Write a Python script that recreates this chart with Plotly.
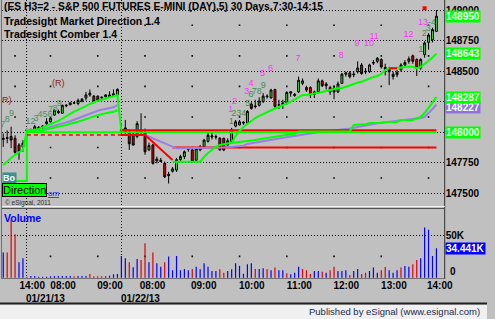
import plotly.graph_objects as go

W, H = 495, 319

# ---------------- data ----------------
bars = list(range(111))

opens = [147940,147955,147965,147950,147895,147880,148010,148020,148005,148040,
         148035,148070,148085,148140,148170,148155,148215,148225,148240,148235,
         148255,148280,148305,148295,148295,148280,148290,148290,148295,148305,
         148010,148000,148000,147985,147965,148015,148000,147855,147895,147765,
         147770,147745,147655,147680,147690,147775,147800,147860,147855,147770,
         147855,147880,147925,147960,147965,147950,147950,147895,147925,148050,
         148060,148075,148075,148230,148215,148220,148250,148290,148280,148350,
         148220,148225,148240,148320,148300,148330,148400,148365,148365,148310,
         148330,148420,148395,148365,148360,148330,148400,148475,148485,148470,
         148495,148550,148500,148495,148565,148580,148595,148530,148515,148475,
         148470,148510,148550,148580,148625,148595,148525,148635,148735,148755,
         148825]
highs = [147990,148015,148045,147975,147910,147935,148030,148030,148060,148050,
         148060,148115,148120,148185,148185,148225,148230,148245,148250,148275,
         148280,148330,148350,148305,148300,148295,148310,148335,148350,148360,
         148070,148100,148020,148000,148090,148155,148030,147915,147905,147800,
         147790,147760,147675,147715,147790,147815,147850,147880,147870,147875,
         147895,147945,147995,147995,147980,147960,147955,147950,148035,148100,
         148100,148090,148180,148245,148265,148285,148320,148310,148355,148355,
         148265,148265,148335,148335,148320,148455,148440,148380,148375,148340,
         148440,148430,148410,148380,148380,148415,148485,148495,148500,148500,
         148580,148565,148525,148560,148590,148615,148605,148560,148535,148495,
         148510,148565,148590,148620,148635,148605,148605,148745,148810,148855,
         149000]
lows = [147880,147910,147870,147825,147775,147840,148000,148010,148000,148020,
        148030,148060,148080,148135,148150,148150,148205,148220,148230,148220,
        148245,148260,148290,148240,148255,148275,148285,148280,148290,148290,
        147975,147975,147855,147890,147950,147975,147815,147845,147735,147745,
        147755,147625,147580,147670,147675,147765,147780,147840,147750,147755,
        147845,147870,147915,147940,147940,147850,147845,147890,147910,148040,
        148055,148060,148060,148185,148195,148210,148240,148275,148275,148195,
        148190,148190,148225,148290,148290,148320,148385,148330,148280,148280,
        148320,148370,148350,148305,148270,148320,148395,148455,148440,148450,
        148480,148470,148475,148485,148550,148565,148520,148465,148385,148430,
        148450,148495,148535,148560,148560,148460,148510,148610,148675,148735,
        148820]
closes = [147950,147950,147935,147835,147840,147910,148020,148020,148045,148030,
          148050,148085,148115,148180,148160,148220,148220,148240,148240,148260,
          148270,148305,148320,148250,148260,148285,148305,148305,148315,148350,
          148025,148035,147905,147895,148070,148000,147840,147890,147745,147780,
          147760,147635,147645,147700,147775,147800,147840,147865,147760,147865,
          147880,147935,147975,147970,147960,147855,147855,147930,148020,148085,
          148085,148080,148170,148195,148210,148255,148295,148295,148345,148210,
          148225,148240,148325,148330,148310,148425,148420,148345,148305,148330,
          148420,148380,148380,148330,148330,148395,148475,148485,148455,148475,
          148525,148480,148495,148550,148570,148605,148535,148515,148495,148455,
          148490,148550,148570,148600,148580,148525,148595,148730,148795,148840,
          148950]

volume = [29400,29400,67800,51000,18000,22700,1200,2000,2000,1200,
          1200,1200,1600,2000,2000,2000,2000,2000,1600,2000,
          2000,2000,4300,1600,1600,1600,1600,2400,3900,4300,
          25500,22700,18000,12200,22000,20800,40400,18000,29400,16900,
          12900,18000,24700,8600,25500,8600,10200,8600,10200,12900,
          9800,16900,12900,7800,7800,9800,5900,7800,9800,16900,
          14100,4700,15700,16900,10200,10200,11000,9800,8600,11800,
          8600,8600,5100,3900,5900,12900,10200,8600,4300,7800,
          7800,7100,5900,8600,12900,7800,7800,8600,3100,7800,
          10200,4300,5900,7800,11800,5900,8600,12500,8600,5900,
          8600,11800,13700,12900,15700,20800,22700,58800,56100,25500,
          34441]
# 1 = up volume (blue), 0 = down volume (red)
vol_up = [1,0,0,0,1,1,0,1,1,1, 1,1,1,1,1,1,1,1,0,1, 1,1,0,0,0,0,1,1,1,1,
          1,1,0,1,1,0,0,1,0,1, 1,0,1,1,1,1,1,1,0,1, 1,1,1,1,1,0,0,1,1,1,
          1,1,1,1,0,1,1,0,1,0, 1,1,0,1,1,1,0,0,0,1, 1,0,1,0,0,1,1,1,0,1,
          1,0,0,1,1,1,0,0,1,1, 1,0,1,1,0,0,1,1,1,1, 1]

N = None
# pivot level (green): prior level then 148000
level_green = [147600]*6 + [148000]*105
# trailing line day 1 (green)
trail_d1 = [147732,147764,147789,147813,147838,147854,148018,148018,148018,148026,
            148038,148050,148067,148080,148092,148110,148127,148150,148169,148182,
            148196,148214,148231,148247,148258,148266,148274,148282,148292,148304,
            148010] + [N]*80
slow_d1 = [N]*6 + [148005,148005,148007,148010,148016,148022,148030,148037,148045,148052,
                   148059,148070,148078,148085,148094,148105,148117,148129,148141,148148,
                   148155,148162,148168,148182] + [N]*81
purple = ([N]*10 + [148020,148033,148045,148053,148062,148070,148078,148090,148102,148115,
                    148127,148140,148152,148164,148176,148183,148190,148197,148204,148222]
          + [N]*6 + [147977,147963,147948,147936,147924,147912,147895,147879,
                     147868,147868,147868,147868,147868,147868,147868,147868,
                     147869,147870,147871,147872,147874,147876,147878,147880,147882,147890,
                     147903,147909,147915,147922,147928,147934,147940,147945,147950,147955,
                     147960,147965,147969,147975,147980,147986,147991,147995,147999,148003,
                     148006,148010,148013,148017,148020,148024,148030,148036,148041,148047,
                     148053,148060,148066,148073,148077,148081,148085,148089,148092,148095,
                     148099,148102,148105,148108,148116,148124,148155,148190,148227])
trail_red_d2 = [N]*30 + [147977]*7 + [147948,147920,147887,147858,147830,147801,147773] + [N]*67
slow_d2 = ([N]*43 + [147759]*8 +
           [147797,147830,147854,147883,147895,147903,147907,147912,147916,147920,
            147922,147924,147930,147936,147942,147948,147955,147961,147965,147969,
            147973,147977,147981,147985] + [148006]*14 +
           [148059,148063,148063,148063,148075,148075,148075,148075,148084,148084,
            148084,148084,148100,148100,148100,148100,148112,148124,148157,148198,
            148239,148287])
fast_d2 = ([N]*58 + [147912,147969,148010,148043,148067,148092,148116,148133,148149,148165,
                     148182,148194,148206,148218,148235,148251,148268,148284,148304,148304,
                     148309,148313,148321,148329,148337,148345,148354,148359,148362,148370,
                     148382,148394,148407,148413,148427,148439,148452,148460,148476,148509,
                     148523,148523,148523,148529,148536,148536,148536,148523,148534,148558,
                     148583,148611,148643])
fast_red_d2 = [N]*98 + [148523,148523,148523] + [N]*10
prev_close_level = 147977          # dashed red on 01/21
red_level_hi = 148015
red_level_lo = 147875

# signal counts
cnt_g1_text = ['7','8','9','12','3','456','7','8','9']
cnt_g1_bar = [-0.15,1.0,2.1,6.9,8.3,10.6,12.0,13.2,14.2]
cnt_g1_px = [148059,148100,148155,148085,148112,148140,148185,148190,148231]
cnt_m_text = ['1','2','3','4','5','6','7','8','9','10','11','12','13']
cnt_m_bar = [57.75,58.75,61.85,62.9,65.85,67.9,74.85,85.85,89.85,92.9,94.2,102.9,106.6]
cnt_m_px = [148182,148250,148331,148400,148482,148523,148605,148626,148727,148727,148782,148801,148896]
cnt_g2_text = ['1','234','5','6','78','9','1','2','3','-4']
cnt_g2_bar = [57.9,59.8,62.1,62.9,64.4,66.0,106.0,106.9,107.9,108.9]
cnt_g2_px = [148086,148155,148231,148304,148331,148378,148673,148809,148850,148896]
signal_bar = [107]
signal_px = [149014]

price_ticks = [147500,147750,148000,148250,148500,148750,149000]
price_ticktext = ['147500','147750','','','148500','148750','149000']
minor_levels = [147625,147875,148125,148375,148625,148875]
hour_bars = [3,12,24,36,48,60,72,84,96,108]
day_breaks = [6,30]
time_ticks = [7.35,15.2,27.1,37.9,50.9,63.1,75.2,87.1,99.2,110.85]
time_text = ['14:00','08:00','09:00','08:00','09:00','10:00','11:00','12:00','13:00','14:00']
date_ticks = [10.85,34.9]
date_text = ['01/21/13','01/22/13']

last_values = [(148950,'#00ff00','148950',0),(148643,'#00ff00','148643',0),
               (148227,'#9370db','148227',-3),(148287,'#00ff00','148287',0),
               (148000,'#00ff00','148000',0)]

# ---------------- figure ----------------
GREEN = '#00ff00'
RED = '#ff0000'
PURPLE = '#9b7fe6'
FONT = 'Liberation Sans'

fig = go.Figure()

# grid intersection dots
dx, dy = [], []
for lv in minor_levels:
    for b in hour_bars:
        dx.append(b); dy.append(lv)
fig.add_trace(go.Scatter(x=dx, y=dy, mode='markers', hoverinfo='skip',
                         marker=dict(symbol='square', size=1.6, color='black', line_width=0)))
vdx = [b for b in hour_bars if 5 < b < 100]
fig.add_trace(go.Scatter(x=vdx, y=[25000]*len(vdx), mode='markers', xaxis='x2', yaxis='y2',
                         hoverinfo='skip',
                         marker=dict(symbol='square', size=1.6, color='black', line_width=0)))

# volume as 1px stems
for flag, col in ((1, '#0000ff'), (0, '#e00000')):
    vx, vy = [], []
    for b, v, u in zip(bars, volume, vol_up):
        if u == flag:
            vx += [b, b, None]
            vy += [0, v, None]
    fig.add_trace(go.Scatter(x=vx, y=vy, mode='lines', xaxis='x2', yaxis='y2',
                             hoverinfo='skip', line=dict(color=col, width=1.2)))

# candles
fig.add_trace(go.Candlestick(x=bars, open=opens, high=highs, low=lows, close=closes,
                             increasing=dict(line=dict(color='black', width=1), fillcolor='#3cdc3c'),
                             decreasing=dict(line=dict(color='black', width=1), fillcolor='#e00000'),
                             whiskerwidth=0))

def line(y, color, width=2, dash='solid', shape='linear'):
    fig.add_trace(go.Scatter(x=bars, y=y, mode='lines', connectgaps=False,
                             line=dict(color=color, width=width, dash=dash, shape=shape),
                             hoverinfo='skip'))

line([red_level_lo if 43 <= i else N for i in bars], RED)
line(purple, PURPLE)
line(slow_d1, GREEN)
line(level_green, GREEN, shape='hv')
line([red_level_hi if 30 <= i else N for i in bars], RED)
line([prev_close_level if 6 <= i <= 30 else N for i in bars], RED, 1.5, '4px,3px')
line(trail_d1, GREEN)
line(trail_red_d2, RED)
line(slow_d2, GREEN)
line(fast_d2, GREEN)
line(fast_red_d2, RED)

fig.add_trace(go.Scatter(x=signal_bar, y=signal_px, mode='markers',
                         marker=dict(color=RED, size=4, symbol='square')))

def counts(t, xb, yp, color):
    fig.add_trace(go.Scatter(x=xb, y=yp, text=t, mode='text', hoverinfo='skip',
                             textfont=dict(family=FONT, size=9, color=color)))

counts(cnt_g1_text, cnt_g1_bar, cnt_g1_px, '#4f8f5f')
counts(cnt_m_text, cnt_m_bar, cnt_m_px, '#ff33ff')
counts(cnt_g2_text, cnt_g2_bar, cnt_g2_px, '#3f8f4f')

def px(x):
    return x / W

def py(y):
    return 1 - y / H

XD = [px(2), px(452)]
XR = [-0.325, 112.1]
grid = dict(showgrid=True, gridcolor='black', gridwidth=1, griddash='1px,2px')

fig.update_layout(
    width=W, height=H, margin=dict(l=0, r=0, t=0, b=0), autosize=False,
    paper_bgcolor='#c0c0c0', plot_bgcolor='#c0c0c0', showlegend=False,
    xaxis=dict(domain=XD, range=XR, anchor='y', showticklabels=False, zeroline=False,
               rangeslider=dict(visible=False), tickvals=day_breaks, ticks='', **grid),
    xaxis2=dict(domain=XD, range=XR, anchor='y2', zeroline=False, showgrid=False,
                tickvals=time_ticks, ticktext=time_text, ticks='',
                tickfont=dict(family=FONT, size=10, color='black', weight='bold'),
                minor=dict(tickvals=day_breaks, showgrid=True, gridcolor='black',
                           griddash='1px,2px', gridwidth=1)),
    yaxis=dict(domain=[py(206), 1], range=[147396, 149082], side='right', zeroline=False,
               tickvals=price_ticks, ticktext=price_ticktext, ticks='',
               tickfont=dict(family=FONT, size=10, color='black', weight='bold'), **grid),
    yaxis2=dict(domain=[py(278), py(209)], range=[-351, 80450], side='right', zeroline=False,
                tickvals=[50000], ticktext=['50K'], ticks='',
                tickfont=dict(family=FONT, size=10, color='black', weight='bold'), **grid),
)

shapes = [
    dict(type='rect', xref='paper', yref='paper', x0=0, x1=1, y0=0, y1=py(304.5),
         fillcolor='#f0f0f0', line_width=0, layer='below'),
    dict(type='line', xref='paper', yref='paper', x0=0, x1=1, y0=py(303.5), y1=py(303.5),
         line=dict(color='#202020', width=2)),
    dict(type='line', xref='paper', yref='paper', x0=px(1.5), x1=px(1.5), y0=py(0), y1=py(279),
         line=dict(color='#707070', width=1)),
    dict(type='line', xref='paper', yref='paper', x0=px(452), x1=px(452), y0=py(0), y1=py(279),
         line=dict(color='#303030', width=1)),
    dict(type='line', xref='paper', yref='paper', x0=px(2), x1=px(452), y0=py(206.5), y1=py(206.5),
         line=dict(color='#f4f4f4', width=1)),
    dict(type='line', xref='paper', yref='paper', x0=px(2), x1=px(452), y0=py(208.5), y1=py(208.5),
         line=dict(color='#505050', width=1)),
    dict(type='line', xref='paper', yref='paper', x0=px(2), x1=px(452), y0=py(278.5), y1=py(278.5),
         line=dict(color='#707070', width=1)),
]
fig.update_layout(shapes=shapes)

ann = []
def text(x, y, s, size=10.5, color='black', bold=True, anchor='left', **kw):
    ann.append(dict(xref='paper', yref='paper', x=px(x), y=py(y), text=s, showarrow=False,
                    xanchor=anchor, yanchor='middle',
                    font=dict(family=FONT, size=size, color=color,
                              weight='bold' if bold else 'normal'), **kw))

text(2, 6.5, '(ES H3=2 - S&P 500 FUTURES E-MINI (DAY),5) 30 Days,7:30-14:15', 10.3)
text(2, 21, 'Tradesight Market Direction 1.4', 10.5)
text(2, 33.5, 'Tradesight Comber 1.4', 10.5)
text(2, 218, 'Volume', 10.5, '#0000ff')
text(2.5, 177.5, 'Bo', 9, 'white', True, bgcolor='#3a8f8f', borderpad=0)
text(47, 193, '<u>om</u>', 8, '#2020ff', False)
text(2.5, 190.5, 'Direction', 11, 'black', False, bgcolor='#00ff00',
     bordercolor='black', borderwidth=1, borderpad=0)
text(3, 203, '© eSignal, 2011', 6.5, '#303030', False)
text(0, 100, 'R)', 9, '#8b1a1a', False)
text(51, 83, '(R)', 9, '#8b1a1a', False)
text(490, 311.5, 'Published by eSignal (www.esignal.com)', 9.5, '#1c2b4b', False, anchor='right')
text(455, 271, '0', 10, 'black')

for bi, s in zip(date_ticks, date_text):
    ann.append(dict(xref='x2', yref='paper', x=bi, y=py(298), text=s, showarrow=False,
                    xanchor='center', yanchor='middle',
                    font=dict(family=FONT, size=10, color='black', weight='bold')))

for val, col, s, shift in last_values:
    ann.append(dict(xref='paper', yref='y', x=px(452.5), y=val, text=s, showarrow=False,
                    xanchor='left', yanchor='middle', yshift=shift, bgcolor=col, borderpad=0,
                    font=dict(family=FONT, size=10, color='#eaffea', weight='bold')))
ann.append(dict(xref='paper', yref='y2', x=px(452.5), y=volume[-1], text='34.441K', showarrow=False,
                xanchor='left', yanchor='middle', bgcolor='#0000ff', borderpad=0,
                font=dict(family=FONT, size=10, color='white', weight='bold')))
fig.update_layout(annotations=ann)

fig.write_html('out.html')
